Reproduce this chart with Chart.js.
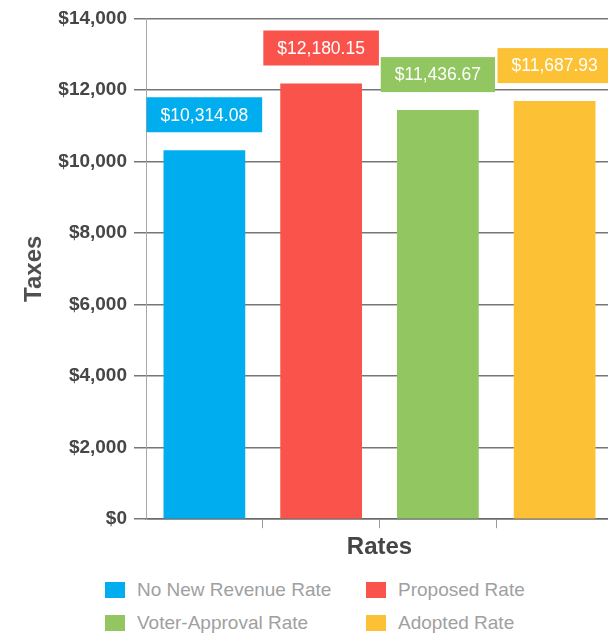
<!DOCTYPE html>
<html>
<head>
<meta charset="utf-8">
<script src="https://cdn.jsdelivr.net/npm/chart.js@4/dist/chart.umd.min.js"></script>
<style>
  html, body { margin: 0; padding: 0; background: #fff; overflow: hidden; width: 608px; height: 634px; }
  #wrap { position: absolute; left: 0; top: 0; width: 628px; height: 562px; }
  #legend {
    position: absolute; left: 105px; top: 573px;
    display: grid; grid-template-columns: 261px 200px; grid-auto-rows: 33px;
    font-family: "Liberation Sans", Arial, sans-serif; font-size: 19px; color: #a0a0a0;
  }
  .item { display: flex; align-items: center; white-space: nowrap; }
  .swatch { width: 20px; height: 16px; margin-right: 12px; flex: none; }
</style>
</head>
<body>
<div id="wrap"><canvas id="chart"></canvas></div>
<div id="legend"></div>
<script>
const categories = ['No New Revenue Rate', 'Proposed Rate', 'Voter-Approval Rate', 'Adopted Rate'];
const taxValues = [10314.08, 12180.15, 11436.67, 11687.93];
const barColors = ['#00aeef', '#f9534b', '#92c660', '#fcc134'];
const yTicks = [0, 2000, 4000, 6000, 8000, 10000, 12000, 14000];

const fontFamily = '"Liberation Sans", Arial, sans-serif';

// value boxes above each bar
const valueBoxes = {
  id: 'valueBoxes',
  afterDatasetsDraw(chart) {
    const ctx = chart.ctx;
    const meta = chart.getDatasetMeta(0);
    ctx.save();
    ctx.font = '17.5px ' + fontFamily;
    ctx.textAlign = 'center';
    ctx.textBaseline = 'middle';
    meta.data.forEach((bar, i) => {
      const text = '$' + taxValues[i].toLocaleString('en-US', { minimumFractionDigits: 2, maximumFractionDigits: 2 });
      const w = ctx.measureText(text).width + 28;
      const h = 35;
      let left = bar.x - w / 2;
      if (left < chart.chartArea.left - 2) left = chart.chartArea.left - 2;
      const bottom = bar.y - 18;
      ctx.fillStyle = barColors[i];
      ctx.fillRect(left, bottom - h, w, h);
      ctx.fillStyle = '#ffffff';
      ctx.fillText(text, left + w / 2, bottom - h / 2 + 1);
    });
    ctx.restore();
  }
};

new Chart(document.getElementById('chart'), {
  type: 'bar',
  data: {
    labels: categories,
    datasets: [{
      data: taxValues,
      backgroundColor: barColors,
      borderWidth: 0,
      barPercentage: 0.7,
      categoryPercentage: 1
    }]
  },
  options: {
    responsive: true,
    maintainAspectRatio: false,
    animation: false,
    layout: { padding: { top: 17, right: 15, bottom: 0, left: 0 } },
    plugins: {
      legend: { display: false },
      tooltip: { enabled: false }
    },
    scales: {
      x: {
        grid: {
          drawOnChartArea: false,
          drawTicks: true,
          tickLength: 9,
          color: c => c.index === 0 ? 'rgba(0,0,0,0)' : '#999999'
        },
        border: { color: '#6a6a6a', width: 1.5 },
        ticks: { display: false },
        title: {
          display: true,
          text: 'Rates',
          color: '#454545',
          font: { family: fontFamily, size: 24, weight: 'bold' },
          padding: { top: 5, bottom: 0 }
        }
      },
      y: {
        min: 0,
        max: 14000,
        afterBuildTicks: scale => { scale.ticks = yTicks.map(v => ({ value: v })); },
        afterFit: scale => { scale.width = 146; },
        grid: { color: '#767676', lineWidth: 1.5, tickLength: 12 },
        border: { color: '#a8a8a8', width: 1 },
        ticks: {
          padding: 7,
          color: '#464646',
          font: { family: fontFamily, size: 19, weight: 'bold' },
          callback: v => '$' + v.toLocaleString('en-US')
        },
        title: {
          display: true,
          text: 'Taxes',
          color: '#505050',
          font: { family: fontFamily, size: 24, weight: 'bold' },
          padding: { top: 20, bottom: 10 }
        }
      }
    }
  },
  plugins: [valueBoxes]
});

const legend = document.getElementById('legend');
[0, 1, 2, 3].forEach(i => {
  const item = document.createElement('div');
  item.className = 'item';
  const sw = document.createElement('span');
  sw.className = 'swatch';
  sw.style.background = barColors[i];
  const label = document.createElement('span');
  label.textContent = categories[i];
  item.appendChild(sw);
  item.appendChild(label);
  legend.appendChild(item);
});
</script>
</body>
</html>
